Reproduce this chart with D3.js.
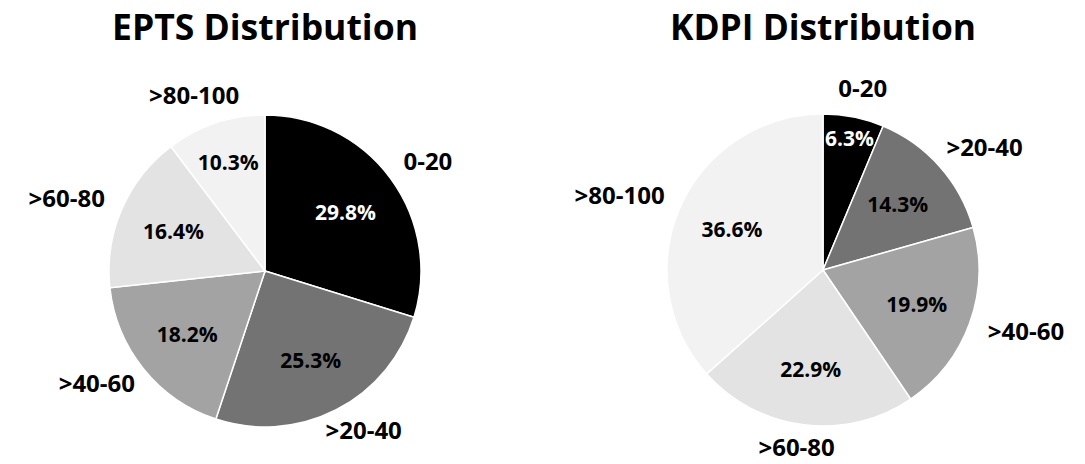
<!DOCTYPE html>
<html>
<head>
<meta charset="utf-8">
<script src="https://cdn.jsdelivr.net/npm/d3@7"></script>
<style>
  body { margin: 0; background: #fff; }
  svg { display: block; }
  text { font-family: "Open Sans", "Noto Sans", sans-serif; font-weight: bold; }
</style>
</head>
<body>
<div id="chart"></div>
<script>
// categorias y valores
const categorias = ["0-20", ">20-40", ">40-60", ">60-80", ">80-100"];
const valoresEpts = [29.8, 25.3, 18.2, 16.4, 10.3];
const valoresKdpi = [6.3, 14.3, 19.9, 22.9, 36.6];
const colores = ["#000000", "#737373", "#a3a3a3", "#e3e3e3", "#f2f2f2"];

const ancho = 1085, alto = 464;
const radio = 156;

const $svg = d3.select("#chart")
    .append("svg")
    .attr("width", ancho)
    .attr("height", alto);

const color = d3.scaleOrdinal().domain(categorias).range(colores);

const pie = d3.pie().sort(null).value(d => d.valor);
const arco = d3.arc().innerRadius(0).outerRadius(radio);

const dibujarPastel = (titulo, valores, cx, cy) => {
    const datos = categorias.map((c, i) => ({ categoria: c, valor: valores[i] }));
    const g = $svg.append("g").attr("transform", `translate(${cx},${cy})`);

    $svg.append("text")
        .attr("x", cx)
        .attr("y", 40)
        .attr("text-anchor", "middle")
        .attr("font-size", 36)
        .attr("textLength", 306)
        .attr("lengthAdjust", "spacingAndGlyphs")
        .text(titulo);

    const arcos = pie(datos);

    g.selectAll("path")
        .data(arcos)
        .join("path")
        .attr("d", arco)
        .attr("fill", d => color(d.data.categoria))
        .attr("stroke", "#fff")
        .attr("stroke-width", 1.5);

    // porcentajes dentro de cada rebanada
    g.selectAll("text.pct")
        .data(arcos)
        .join("text")
        .attr("class", "pct")
        .attr("transform", d => {
            const frac = d.data.valor / 100;
            const k = frac < 0.07 ? 0.86 : frac < 0.12 ? 0.74 : 0.64;
            const a = (d.startAngle + d.endAngle) / 2;
            return `translate(${Math.sin(a) * radio * k},${-Math.cos(a) * radio * k})`;
        })
        .attr("text-anchor", "middle")
        .attr("dominant-baseline", "central")
        .attr("font-size", 21)
        .attr("fill", d => d.data.categoria === "0-20" ? "#fff" : "#000")
        .text(d => d.data.valor.toFixed(1) + "%");

    // etiquetas de categoria afuera
    g.selectAll("text.cat")
        .data(arcos)
        .join("text")
        .attr("class", "cat")
        .attr("text-anchor", "middle")
        .attr("dominant-baseline", "central")
        .attr("font-size", 24)
        .text(d => d.data.categoria)
        .each(function (d) {
            const a = (d.startAngle + d.endAngle) / 2;
            const w = this.getComputedTextLength();
            const r = radio * 1.14;
            const x = Math.sin(a) * r + Math.sin(a) * w / 2;
            const y = -Math.cos(a) * r - Math.max(Math.cos(a), 0) * 8;
            d3.select(this).attr("x", x).attr("y", y);
        });
};

dibujarPastel("EPTS Distribution", valoresEpts, 265, 271);
dibujarPastel("KDPI Distribution", valoresKdpi, 823, 270);
</script>
</body>
</html>
